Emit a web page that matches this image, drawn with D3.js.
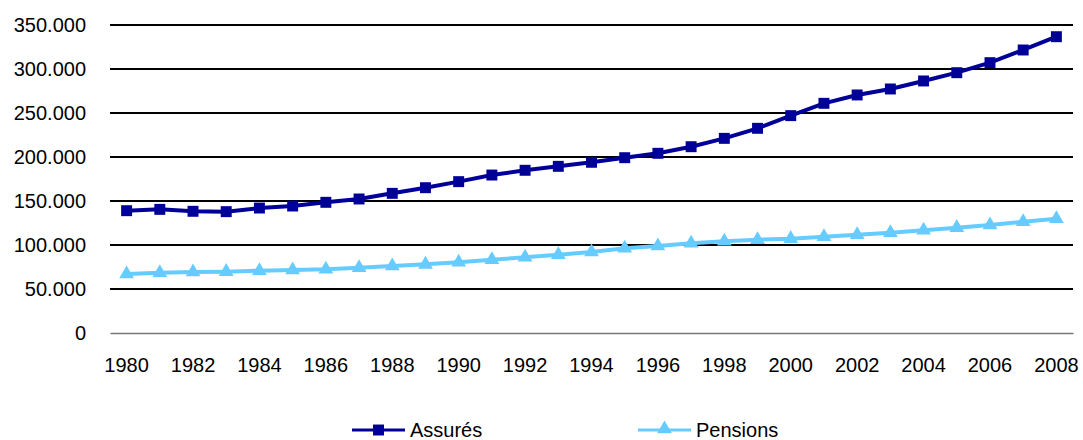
<!DOCTYPE html>
<html>
<head>
<meta charset="utf-8">
<script src="https://cdn.jsdelivr.net/npm/d3@7"></script>
<style>
  body { margin: 0; background: #fff; }
  text { font-family: "Liberation Sans", Arial, sans-serif; fill: #000; }
</style>
</head>
<body>
<svg id="chart"></svg>
<script>
// Data
const years = d3.range(1980, 2009);
const assures = [139000, 140500, 138300, 137900, 142000, 144300, 148500, 152300, 158700, 165100,
  172000, 179500, 184900, 189400, 194000, 199200, 204200, 211700, 221200, 232600,
  247000, 261000, 270500, 277300, 286400, 295800, 307200, 321600, 336700];
const pensions = [67000, 68500, 69300, 69700, 70800, 71600, 72400, 74200, 76100, 78000,
  80300, 83300, 86000, 89000, 92000, 96200, 98900, 101900, 104200, 106000,
  107200, 109400, 111700, 114000, 116700, 119700, 122700, 126500, 129900];
const yTicks = [0, 50000, 100000, 150000, 200000, 250000, 300000, 350000];
const seriesNames = ["Assurés", "Pensions"];

const config = {
  width: 1083, height: 440,
  margin: { top: 25, right: 10, bottom: 107, left: 110 }
};
const colours = { "Assurés": "#000099", "Pensions": "#66ccff" };
const fontSize = 20;

const svg = d3.select("#chart").attr("width", config.width).attr("height", config.height);
const innerW = config.width - config.margin.left - config.margin.right;
const innerH = config.height - config.margin.top - config.margin.bottom;
const chart = svg.append("g").attr("transform", `translate(${config.margin.left},${config.margin.top})`);

const xScale = d3.scaleBand().domain(years).range([0, innerW]);
const yScale = d3.scaleLinear().domain([0, 350000]).range([innerH, 0]);
const xPos = d => xScale(d) + xScale.bandwidth() / 2;

// gridlines
chart.selectAll(".grid")
  .data(yTicks.filter(t => t > 0))
  .join("line")
  .attr("class", "grid")
  .attr("x1", 0).attr("x2", innerW)
  .attr("y1", d => yScale(d)).attr("y2", d => yScale(d))
  .attr("stroke", "#000").attr("stroke-width", 2);

// y axis labels
const fmt = d => d === 0 ? "0" : d3.format(",")(d).replace(/,/g, ".");
const yAxisG = chart.append("g")
  .call(d3.axisLeft(yScale).tickValues(yTicks).tickFormat(fmt).tickSize(0).tickPadding(24));
yAxisG.select(".domain").remove();
yAxisG.selectAll("text").attr("font-size", fontSize).attr("font-family", "Liberation Sans, Arial, sans-serif").attr("fill", "#000");

// x axis
const xAxisG = chart.append("g")
  .attr("transform", `translate(0,${innerH})`)
  .call(d3.axisBottom(xScale).tickValues(years.filter(y => y % 2 === 0)).tickSize(0).tickPadding(25));
xAxisG.select(".domain").attr("stroke", "#777").attr("stroke-width", 1.5);
xAxisG.selectAll("text").attr("font-size", fontSize).attr("font-family", "Liberation Sans, Arial, sans-serif").attr("fill", "#000");

// lines
const series = [
  { name: "Assurés", values: assures },
  { name: "Pensions", values: pensions }
];
const line = d3.line().x((d, i) => xPos(years[i])).y(d => yScale(d));

chart.selectAll(".series-line")
  .data(series)
  .join("path")
  .attr("class", "series-line")
  .attr("fill", "none")
  .attr("stroke", d => colours[d.name])
  .attr("stroke-width", 4)
  .attr("d", d => line(d.values));

const square = d3.symbol().type(d3.symbolSquare).size(120);
const triangle = d3.symbol().type(d3.symbolTriangle).size(95);

chart.selectAll(".m-assures")
  .data(assures)
  .join("path")
  .attr("class", "m-assures")
  .attr("d", square)
  .attr("fill", colours["Assurés"])
  .attr("transform", (d, i) => `translate(${xPos(years[i])},${yScale(d)})`);

chart.selectAll(".m-pensions")
  .data(pensions)
  .join("path")
  .attr("class", "m-pensions")
  .attr("d", triangle)
  .attr("fill", colours["Pensions"])
  .attr("transform", (d, i) => `translate(${xPos(years[i])},${yScale(d)})`);

// legend
const legend = svg.append("g").attr("transform", "translate(352,430)");
const legendItems = legend.selectAll("g")
  .data(seriesNames)
  .join("g")
  .attr("transform", (d, i) => `translate(${i * 286},0)`);
legendItems.append("line")
  .attr("x1", 0).attr("x2", 53)
  .attr("stroke", d => colours[d]).attr("stroke-width", 3);
legendItems.append("path")
  .attr("d", (d, i) => i === 0 ? square() : triangle())
  .attr("fill", d => colours[d])
  .attr("transform", (d, i) => `translate(26.5,${i === 0 ? 0 : -1})`);
legendItems.append("text")
  .attr("x", 58).attr("y", 7)
  .attr("font-size", fontSize)
  .text(d => d);
</script>
</body>
</html>
